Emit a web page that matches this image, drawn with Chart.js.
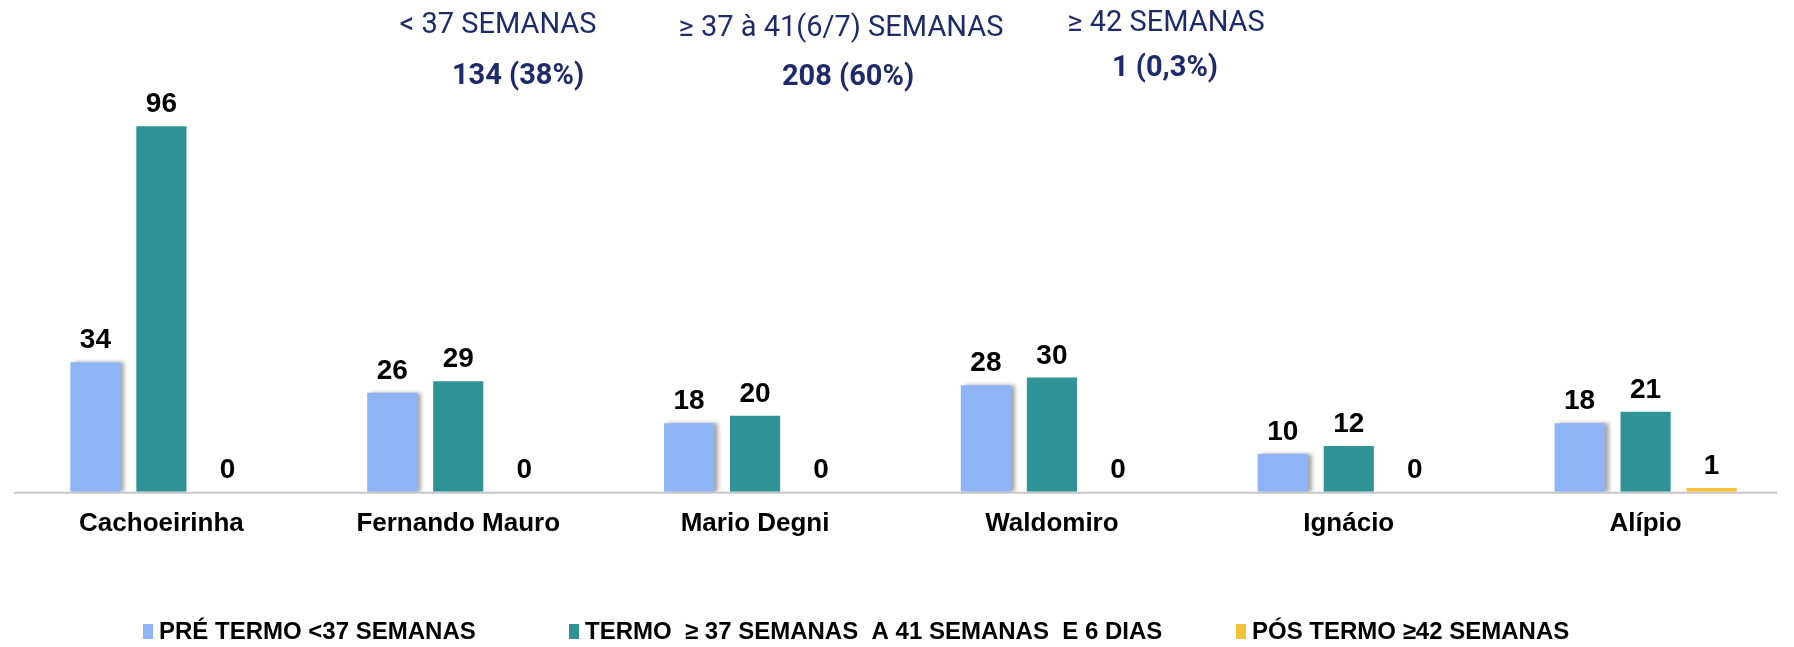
<!DOCTYPE html>
<html>
<head>
  <title>Idade gestacional por unidade</title>
  <script src="https://cdn.jsdelivr.net/npm/chart.js"></script>
  <style>
    html, body { margin: 0; padding: 0; background: #fff; }
    #wrap { width: 1794px; height: 647px; position: relative; }
  </style>
</head>
<body>
  <div id="wrap"><canvas id="myChart" width="1794" height="647"></canvas></div>

  <script>
    // dados
    const unidades = ['Cachoeirinha', 'Fernando Mauro', 'Mario Degni', 'Waldomiro', 'Ignácio', 'Alípio'];
    const preTermo = [34, 26, 18, 28, 10, 18];
    const termo = [96, 29, 20, 30, 12, 21];
    const posTermo = [0, 0, 0, 0, 0, 1];
    const seriesNomes = ['PRÉ TERMO <37 SEMANAS', 'TERMO  ≥ 37 SEMANAS  A 41 SEMANAS  E 6 DIAS', 'PÓS TERMO ≥42 SEMANAS'];
    const cabecalhos = ['< 37 SEMANAS', '≥ 37 à 41(6/7) SEMANAS', '≥ 42 SEMANAS'];
    const totais = ['134 (38%)', '208 (60%)', '1 (0,3%)'];

    const cores = ['#8FB4F6', '#2E9297', '#F4C13A'];
    const azulEscuro = '#1D2B6B';

    // posicoes do cabecalho: [x titulo, y titulo, x total, y total]
    const cabecalhoPos = [[498, 26, 518, 77], [841, 29, 848, 78], [1166, 24, 1165, 69]];
    // inicio de cada item da legenda
    const legendaX = [143, 569, 1236];

    const sombra = {
      id: 'sombra',
      beforeDatasetDraw(chart, args) {
        if (args.index !== 0) return;
        const ctx = chart.ctx;
        ctx.save();
        ctx.shadowColor = 'rgba(0,0,0,0.35)';
        ctx.shadowBlur = 4;
        ctx.shadowOffsetX = 4;
        ctx.shadowOffsetY = 0;
      },
      afterDatasetDraw(chart, args) {
        if (args.index !== 0) return;
        chart.ctx.restore();
      }
    };

    const rotulos = {
      id: 'rotulos',
      afterDatasetsDraw(chart) {
        const ctx = chart.ctx;
        ctx.save();
        ctx.font = 'bold 28px "Liberation Sans", Arial, sans-serif';
        ctx.fillStyle = '#000';
        ctx.textAlign = 'center';
        ctx.textBaseline = 'alphabetic';
        chart.data.datasets.forEach((ds, i) => {
          const meta = chart.getDatasetMeta(i);
          meta.data.forEach((bar, j) => {
            ctx.fillText(String(ds.data[j]), bar.x, bar.y - 14);
          });
        });
        ctx.restore();
      }
    };

    const extras = {
      id: 'extras',
      beforeDatasetsDraw(chart) {
        // linha do eixo x
        const ctx = chart.ctx;
        const a = chart.chartArea;
        ctx.save();
        ctx.strokeStyle = '#C8C8C8';
        ctx.lineWidth = 2;
        ctx.beginPath();
        ctx.moveTo(a.left + 1, a.bottom + 1);
        ctx.lineTo(1777, a.bottom + 1);
        ctx.stroke();
        ctx.restore();
      },
      afterDraw(chart) {
        const ctx = chart.ctx;
        ctx.save();
        ctx.fillStyle = azulEscuro;
        ctx.textAlign = 'center';
        ctx.textBaseline = 'middle';
        cabecalhos.forEach((t, i) => {
          const p = cabecalhoPos[i];
          ctx.font = '29px Roboto, "Noto Sans", sans-serif';
          ctx.fillText(t, p[0], p[1]);
          ctx.font = 'bold 29px Roboto, "Noto Sans", sans-serif';
          ctx.fillText(totais[i], p[2], p[3]);
        });

        // legenda
        ctx.textAlign = 'left';
        ctx.font = 'bold 24px "Liberation Sans", Arial, sans-serif';
        chart.data.datasets.forEach((ds, i) => {
          const x = legendaX[i];
          ctx.fillStyle = ds.backgroundColor;
          ctx.fillRect(x, 624, 10, 15);
          ctx.fillStyle = '#000';
          ctx.fillText(ds.label, x + 16, 632);
        });
        ctx.restore();
      }
    };

    const ctx = document.getElementById('myChart').getContext('2d');
    const myChart = new Chart(ctx, {
      type: 'bar',
      data: {
        labels: unidades,
        datasets: [
          { label: seriesNomes[0], data: preTermo, backgroundColor: cores[0] },
          { label: seriesNomes[1], data: termo, backgroundColor: cores[1] },
          { label: seriesNomes[2], data: posTermo, backgroundColor: cores[2] }
        ]
      },
      options: {
        responsive: false,
        animation: false,
        categoryPercentage: 0.667,
        barPercentage: 0.76,
        layout: { padding: { top: 111, left: 13, right: 0, bottom: 92 } },
        plugins: {
          legend: { display: false },
          tooltip: { enabled: false }
        },
        scales: {
          x: {
            grid: { display: false, drawTicks: false },
            border: { display: false },
            ticks: {
              color: '#000',
              padding: 16,
              font: { family: '"Liberation Sans", Arial, sans-serif', size: 26, weight: 'bold' }
            }
          },
          y: {
            display: false,
            min: 0,
            max: 100
          }
        }
      },
      plugins: [sombra, rotulos, extras]
    });
  </script>
</body>
</html>
